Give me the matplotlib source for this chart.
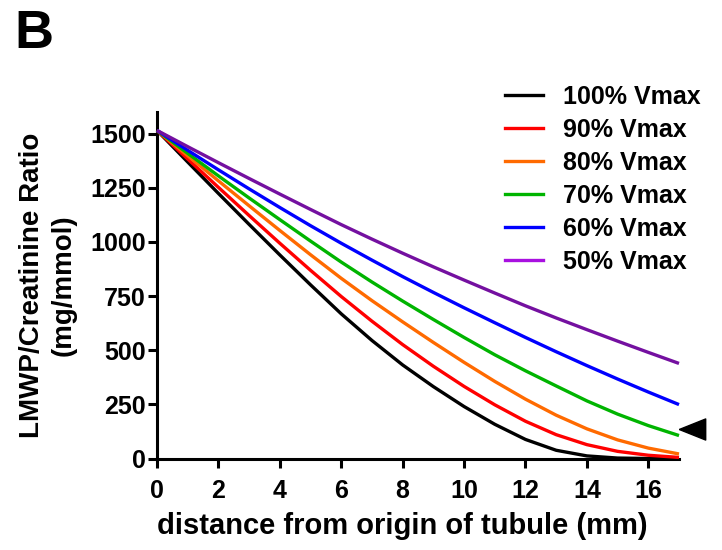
import matplotlib
matplotlib.use("Agg")
import matplotlib.pyplot as plt
from matplotlib.lines import Line2D

plt.rcParams['font.family'] = ['Liberation Sans', 'DejaVu Sans']

distance = list(range(0, 18))
v100 = [1515, 1369, 1224, 1081, 940, 802, 668, 545, 432, 332, 240, 158, 88, 38, 12, 2, 0, 0]
v90 = [1515, 1383, 1252, 1122, 994, 869, 748, 634, 526, 426, 333, 248, 172, 110, 64, 33, 15, 5]
v80 = [1515, 1398, 1282, 1167, 1053, 941, 832, 729, 631, 536, 444, 356, 274, 200, 137, 86, 48, 21]
v70 = [1515, 1409, 1305, 1203, 1103, 1004, 907, 815, 727, 642, 559, 479, 405, 335, 266, 205, 152, 106]
v60 = [1515, 1423, 1333, 1245, 1159, 1075, 994, 916, 840, 767, 696, 627, 559, 493, 429, 367, 307, 249]
v50 = [1515, 1440, 1366, 1293, 1221, 1150, 1080, 1013, 948, 885, 824, 764, 705, 649, 595, 542, 490, 439]

series = [v100, v90, v80, v70, v60, v50]
labels = ["100% Vmax", "90% Vmax", "80% Vmax", "70% Vmax", "60% Vmax", "50% Vmax"]
line_colors = ["#000000", "#ff0000", "#ff6a00", "#00b400", "#0000ff", "#7410a0"]
legend_colors = ["#000000", "#ff0000", "#ff6a00", "#00b400", "#0000ff", "#a810e0"]

x_ticks = [0, 2, 4, 6, 8, 10, 12, 14, 16]
y_ticks = [0, 250, 500, 750, 1000, 1250, 1500]
arrow_y = 135

fig = plt.figure(figsize=(7.22, 5.5), dpi=100)
ax = fig.add_axes([157/722, 1 - 458.5/550, (679-157)/722, (458.5-112)/550])

for vals, c in zip(series, line_colors):
    ax.plot(distance, vals, color=c, lw=2.4, solid_capstyle='butt', clip_on=False, zorder=3)

ax.set_xlim(0, 17)
ax.set_ylim(0, 1600)
ax.set_xticks(x_ticks)
ax.set_yticks(y_ticks)
for s in ['top', 'right']:
    ax.spines[s].set_visible(False)
for s in ['left', 'bottom']:
    ax.spines[s].set_linewidth(2.2)
ax.tick_params(axis='both', width=2.2, length=6.5, labelsize=18)
ax.tick_params(axis='x', pad=8)
ax.tick_params(axis='y', pad=1.5)
for lab in ax.get_xticklabels() + ax.get_yticklabels():
    lab.set_fontweight('bold')

ax.set_xlabel("distance from origin of tubule (mm)", fontsize=21, fontweight='bold')
ax.xaxis.label.set_va('center')
ax.xaxis.set_label_coords(0.469, (458.5 - 526) / 346.5)
ax.set_ylabel("LMWP/Creatinine Ratio\n(mg/mmol)", fontsize=20, fontweight='bold', linespacing=1.25)
ax.yaxis.label.set_va('center')
ax.yaxis.set_label_coords((48 - 157) / 522, 0.5)

# arrowhead marker outside the axes
tri = [(-1, 0), (1, 0.8), (1, -0.8), (-1, 0)]
ax.plot([17.42], [arrow_y], marker=tri, markersize=19, color='black', clip_on=False, zorder=4)

handles = [Line2D([0], [0], color=c, lw=2.4) for c in legend_colors]
fig.legend(handles, labels, loc='upper left', bbox_to_anchor=(495/722, 1 - 75/550),
           frameon=False, prop={'size': 18, 'weight': 'bold'}, handlelength=1.52,
           handletextpad=0.8, labelspacing=0.36, borderaxespad=0)

fig.text(14/722, 1 - 48/550, "B", fontsize=39, fontweight='bold', va='baseline', ha='left')

fig.savefig("out.png", dpi=100)
